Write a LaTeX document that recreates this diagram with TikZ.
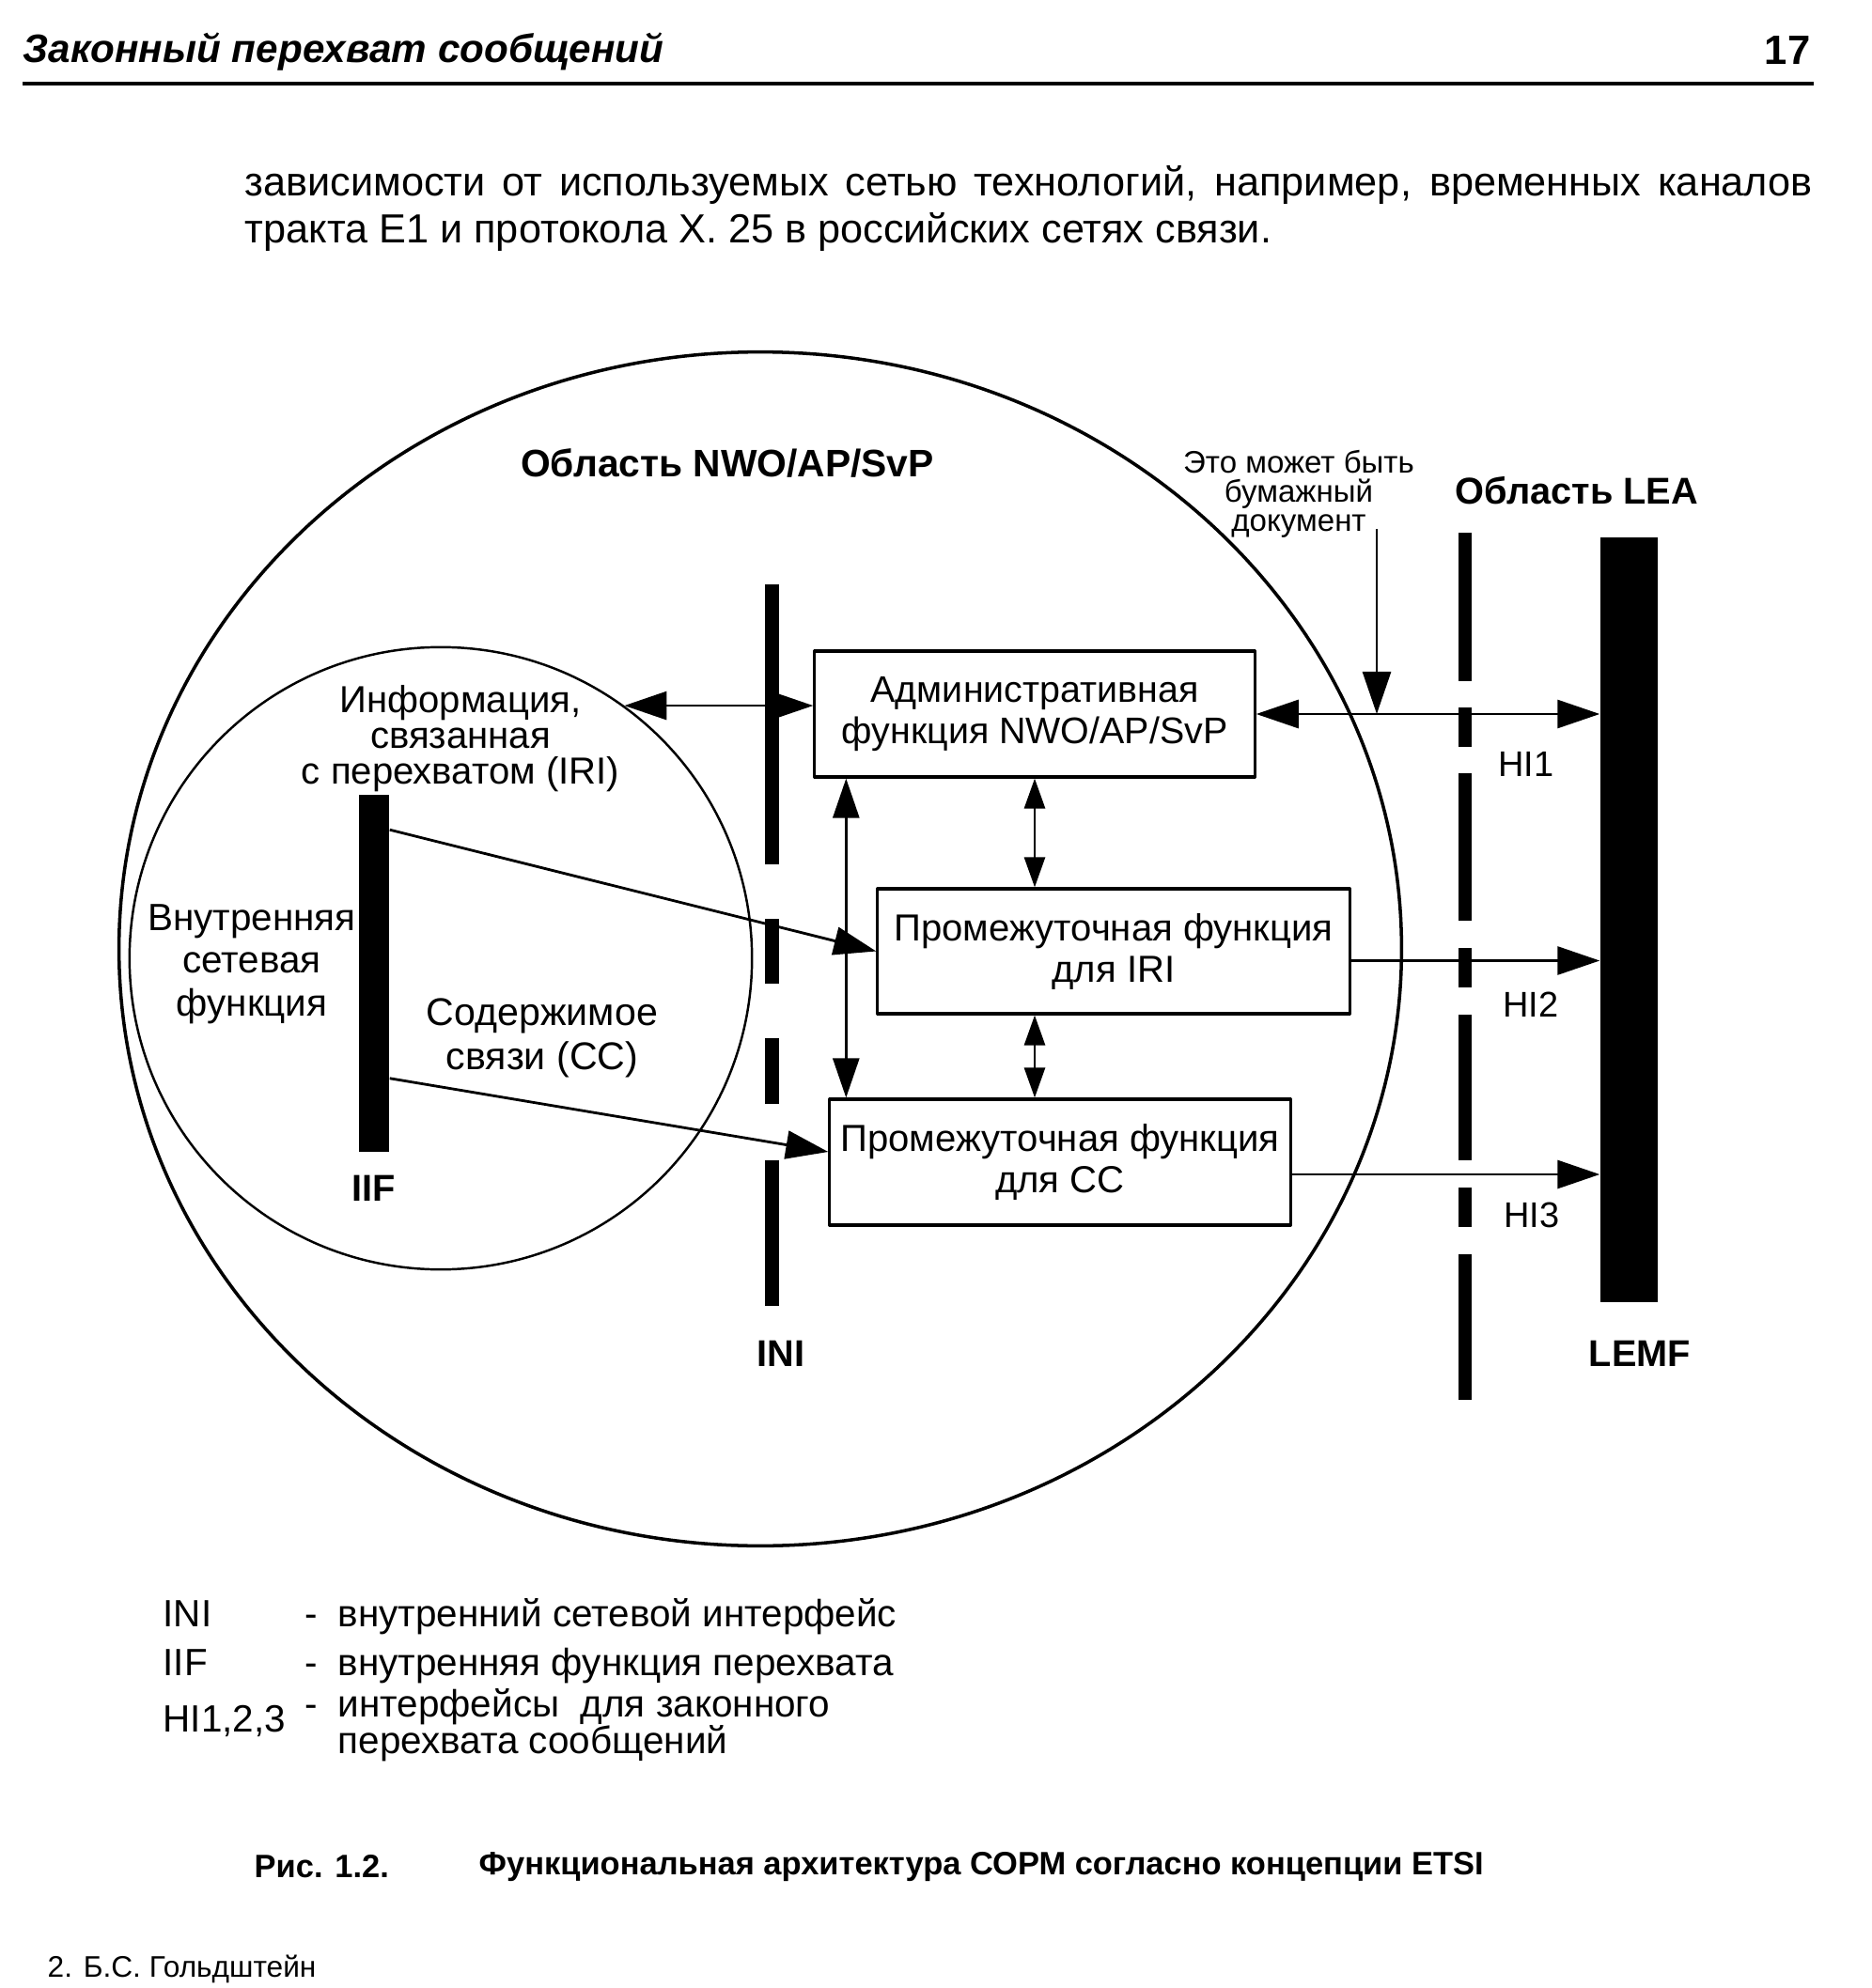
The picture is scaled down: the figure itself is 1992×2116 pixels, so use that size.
\documentclass[tikz,border=0pt]{standalone}
\usepackage{fontspec}
\setmainfont{Liberation Sans}
\usetikzlibrary{arrows.meta}

\begin{document}
\begin{tikzpicture}[x=0.01cm, y=-0.01cm, line join=round,
  >={Triangle[length=4.5mm,width=3mm]},
  fbox/.style={draw, line width=0.9pt, inner sep=0, align=center, font=\fontsize{11.2}{12.5}\selectfont},
  txt/.style={inner sep=0, align=center, font=\fontsize{10.8}{12.5}\selectfont},
  titl/.style={inner sep=0, font=\fontsize{11.3}{13}\selectfont\bfseries},
  lgd/.style={anchor=base west, inner sep=0, font=\fontsize{11.5}{13}\selectfont},
  conn/.style={line width=0.8pt},
  small/.style={>={Triangle[length=3.2mm,width=2.2mm]}},
  bar/.style={fill=black, draw=none, inner sep=0},
  cut/.style={line width=4.2pt}]

  \useasboundingbox (0,0) rectangle (1992,2116);

  % Заголовок страницы и текст
  \node[anchor=west, inner sep=0, font=\fontsize{12}{14}\selectfont\bfseries\itshape] (head) at (24,55) {Законный перехват сообщений};
  \node[anchor=east, inner sep=0, font=\fontsize{12.4}{14}\selectfont\bfseries] (pnum) at (1927,54) {17};
  \draw[line width=1.2pt] (24,89) -- (1930,89);
  \node[anchor=west, inner sep=0, font=\fontsize{12.3}{15}\selectfont] (par1) at (260,197) {\makebox[16.67cm][s]{зависимости от используемых сетью технологий, например, временных каналов}};
  \node[anchor=west, inner sep=0, font=\fontsize{12.3}{15}\selectfont] (par2) at (260,247) {тракта E1 и протокола X. 25 в российских сетях связи.};

  % Области
  \draw[line width=1pt] (809,1010) ellipse [x radius=6.82cm, y radius=6.35cm];
  \node[circle, draw, line width=0.7pt, minimum size=6.62cm, inner sep=0] (iic) at (469,1020) {};
  \node[titl, font=\fontsize{11.6}{13}\selectfont\bfseries] (nwo) at (774,493) {Область NWO/AP/SvP};
  \node[titl] (lea) at (1678,522) {Область LEA};

  % Полосы IIF, INI, LEMF
  \node[bar, minimum width=0.32cm, minimum height=3.8cm] (iif) at (398,1036) {};
  \node[titl] (iifl) at (398,1265) {IIF};
  \foreach \a/\b in {622/920, 978/1047, 1105/1175, 1235/1390}
    \draw[cut] (821.5,\a) -- (821.5,\b);
  \node[titl] (ini) at (831,1441) {INI};
  \foreach \a/\b in {567/725, 753/795, 823/980, 1009/1051, 1080/1235, 1264/1306, 1335/1490}
    \draw[cut] (1559,\a) -- (1559,\b);
  \node[bar, minimum width=0.61cm, minimum height=8.14cm] (lemf) at (1733.5,979) {};
  \node[titl] (lemfl) at (1745,1441) {LEMF};

  % Функции
  \node[fbox, minimum width=4.68cm, minimum height=1.34cm] (adm) at (1101,760) {Административная\\функция NWO/AP/SvP};
  \node[fbox, minimum width=5.02cm, minimum height=1.33cm, font=\fontsize{11.4}{12.5}\selectfont] (iri) at (1185,1012.5) {Промежуточная функция\\для IRI};
  \node[fbox, minimum width=4.90cm, minimum height=1.34cm, font=\fontsize{11.4}{12.5}\selectfont] (cc) at (1128,1237) {Промежуточная функция\\для CC};

  % Подписи
  \node[txt, font=\fontsize{11.4}{10.8}\selectfont] (irit) at (490,786) {Информация,\\связанная\\с перехватом (IRI)};
  \node[txt, font=\fontsize{11.5}{13}\selectfont] (vsf) at (268,1026) {Внутренняя\\сетевая\\функция};
  \node[txt, font=\fontsize{11.7}{13.3}\selectfont] (cct) at (577,1105) {Содержимое\\связи (CC)};
  \node[txt, font=\fontsize{9.4}{8.8}\selectfont] (note) at (1382,526) {Это может быть\\бумажный\\документ};
  \node[txt] (hi1) at (1624,813) {HI1};
  \node[txt] (hi2) at (1629,1069) {HI2};
  \node[txt] (hi3) at (1630,1293) {HI3};

  % Связи
  \coordinate (doc) at (1465,563);
  \coordinate (lk) at ([xshift=0.35cm]adm.south west);
  \coordinate (iif1) at ([yshift=-0.38cm]iif.north east);
  \coordinate (iif2) at ([yshift=0.79cm]iif.south east);
  \coordinate (ccin) at ([yshift=0.11cm]cc.west);
  \coordinate (h2) at ([yshift=-0.1cm]iri.east);
  \coordinate (h3) at ([yshift=-0.13cm]cc.east);
  \draw[conn, <->] (iic.54.5) -- (adm.west |- iic.54.5);
  \draw[conn, <->] (adm.east) -- (lemf.west |- adm.east);
  \draw[conn, ->] (doc) -- (doc |- adm.east);
  \draw[conn, small, <->] (adm.south) -- (adm.south |- iri.north);
  \draw[conn, small, <->] (adm.south |- iri.south) -- (adm.south |- cc.north);
  \draw[conn, <->, >={Triangle[length=4.2mm,width=2.8mm]}] (lk) -- (lk |- cc.north);
  \draw[conn, ->] (iif1) -- (iri.west);
  \draw[conn, ->] (iif2) -- (ccin);
  \draw[conn, ->] (h2) -- (lemf.west |- h2);
  \draw[conn, ->] (h3) -- (lemf.west |- h3);

  % Обозначения
  \node[lgd] (l1) at (173,1731) {INI};
  \node[lgd] (l2) at (173,1783) {IIF};
  \node[lgd] (l3) at (173,1843) {HI1,2,3};
  \node[lgd] (d1) at (324,1731) {-};
  \node[lgd] (d2) at (324,1783) {-};
  \node[lgd] (d3) at (324,1827) {-};
  \node[lgd] (t1) at (359,1731) {внутренний сетевой интерфейс};
  \node[lgd] (t2) at (359,1783) {внутренняя функция перехвата};
  \node[lgd] (t3) at (359,1827) {интерфейсы\ \ для законного};
  \node[lgd] (t4) at (359,1866) {перехвата сообщений};

  % Подпись к рисунку
  \node[anchor=west, inner sep=0, font=\fontsize{9.8}{11}\selectfont\bfseries] (cap1) at (270,1987) {Рис. 1.2.};
  \node[anchor=west, inner sep=0, font=\fontsize{9.8}{11}\selectfont\bfseries] (cap2) at (509,1987) {Функциональная архитектура СОРМ согласно концепции ETSI};
  \node[anchor=west, inner sep=0, font=\fontsize{9}{11}\selectfont] (foot) at (50,2096) {2. Б.С. Гольдштейн};
\end{tikzpicture}
\end{document}
